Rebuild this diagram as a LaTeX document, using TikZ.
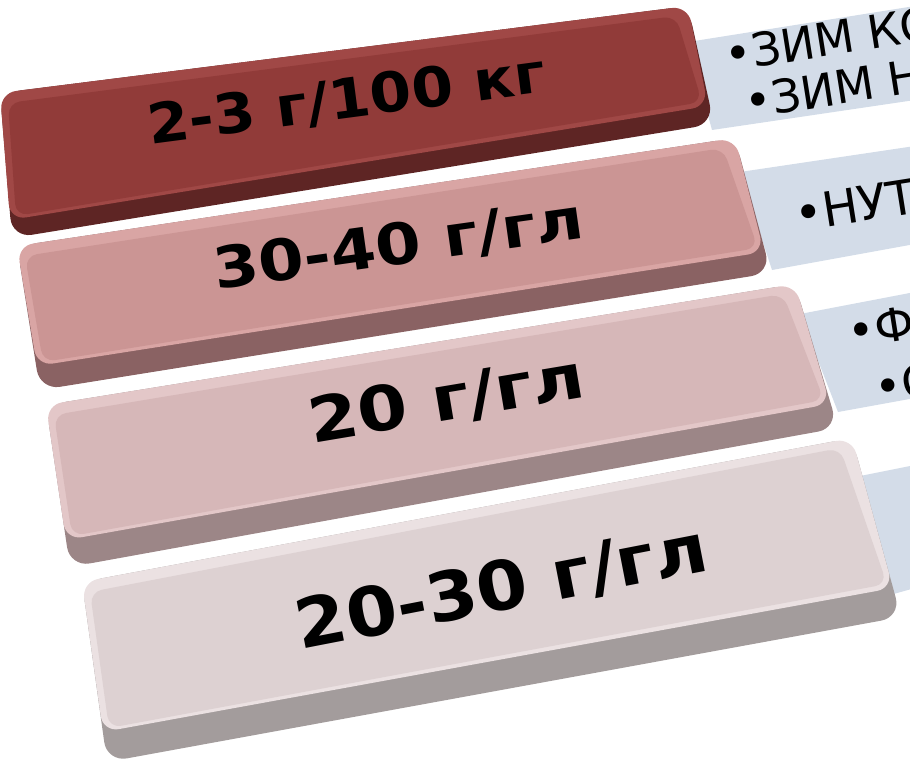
\documentclass[tikz,border=0pt]{standalone}
\usepackage{fontspec}
\setmainfont{DejaVu Sans}

\definecolor{panelblue}{HTML}{D3DCE8}
\definecolor{sideA}{HTML}{5E2524}
\definecolor{bevelA}{HTML}{A04846}
\definecolor{faceA}{HTML}{913B39}
\definecolor{sideB}{HTML}{8A6263}
\definecolor{bevelB}{HTML}{D9A5A4}
\definecolor{faceB}{HTML}{CB9594}
\definecolor{sideC}{HTML}{9C8687}
\definecolor{bevelC}{HTML}{E3C7C8}
\definecolor{faceC}{HTML}{D6B7B8}
\definecolor{sideD}{HTML}{A39C9C}
\definecolor{bevelD}{HTML}{EBE1E2}
\definecolor{faceD}{HTML}{DDD1D2}

\begin{document}
\begin{tikzpicture}[x=1pt, y=-1pt,
    outer/.style={rounded corners=20pt},
    bevel/.style={rounded corners=16pt},
    inner/.style={rounded corners=12pt},
    dose/.style={anchor=base, inner sep=0pt},
    note/.style={anchor=base west, inner sep=0pt, rotate=9}]
  \useasboundingbox (0,0) rectangle (910,778);
  \clip (0,0) rectangle (910,778);

  \begin{scope}[fill=panelblue]
    \fill (688,42) -- (915,6) -- (915,100) -- (712,130) -- cycle;
    \fill (740,172) -- (915,146) -- (915,244) -- (772,270) -- cycle;
    \fill (800,314) -- (915,292) -- (915,398) -- (838,412) -- cycle;
    \fill (850,478) -- (915,465) -- (915,588) -- (890,595) -- cycle;
  \end{scope}
  \node[note, font=\fontsize{46}{50}\selectfont] (zim1) at (727,72) {•ЗИМ КО};
  \node[note, font=\fontsize{46}{50}\selectfont] (zim2) at (747,119) {•ЗИМ Н};
  \node[note, font=\fontsize{48}{52}\selectfont] (nut) at (797,232) {•НУТ};
  \node[note, font=\fontsize{46}{50}\selectfont] (fi) at (850,349) {•Ф};
  \node[note, font=\fontsize{46}{50}\selectfont] (es) at (877,405) {•С};

  \begin{scope}
    \fill[sideA, outer] (0,93) -- (688,6) -- (714,124) -- (12,238) -- cycle;
    \fill[bevelA, bevel] (0,93) -- (688,6) -- (708,106) -- (10,220) -- cycle;
    \fill[faceA, inner] (8,103) -- (676,16) -- (702,102) -- (16,216) -- cycle;
    \node[dose, rotate=7.5, xscale=1.09, font=\bfseries\fontsize{55}{60}\selectfont] (doseA) at (349,118) {2-3 г/100 кг};
  \end{scope}
  \begin{scope}
    \fill[sideB, outer] (17,246) -- (735,138) -- (771,273) -- (40,390) -- cycle;
    \fill[bevelB, bevel] (17,246) -- (735,138) -- (764,252) -- (37,366) -- cycle;
    \fill[faceB, inner] (25,256) -- (723,148) -- (758,248) -- (43,362) -- cycle;
    \node[dose, rotate=8, xscale=1.15, font=\bfseries\fontsize{57}{62}\selectfont] (doseB) at (401,264) {30-40 г/гл};
  \end{scope}
  \begin{scope}
    \fill[sideC, outer] (46,405) -- (795,284) -- (838,428) -- (70,567) -- cycle;
    \fill[bevelC, bevel] (46,405) -- (795,284) -- (830,404) -- (66,540) -- cycle;
    \fill[faceC, inner] (54,415) -- (783,294) -- (824,400) -- (72,536) -- cycle;
    \node[dose, rotate=9.5, xscale=1.16, font=\bfseries\fontsize{62}{66}\selectfont] (doseC) at (450,420) {20 г/гл};
  \end{scope}
  \begin{scope}
    \fill[sideD, outer] (82,582) -- (852,438) -- (901,617) -- (107,762) -- cycle;
    \fill[bevelD, bevel] (82,582) -- (852,438) -- (893,588) -- (103,732) -- cycle;
    \fill[faceD, inner] (90,592) -- (840,448) -- (887,584) -- (109,728) -- cycle;
    \node[dose, rotate=11, xscale=1.08, font=\bfseries\fontsize{68}{72}\selectfont] (doseD) at (506,610) {20-30 г/гл};
  \end{scope}
\end{tikzpicture}
\end{document}
